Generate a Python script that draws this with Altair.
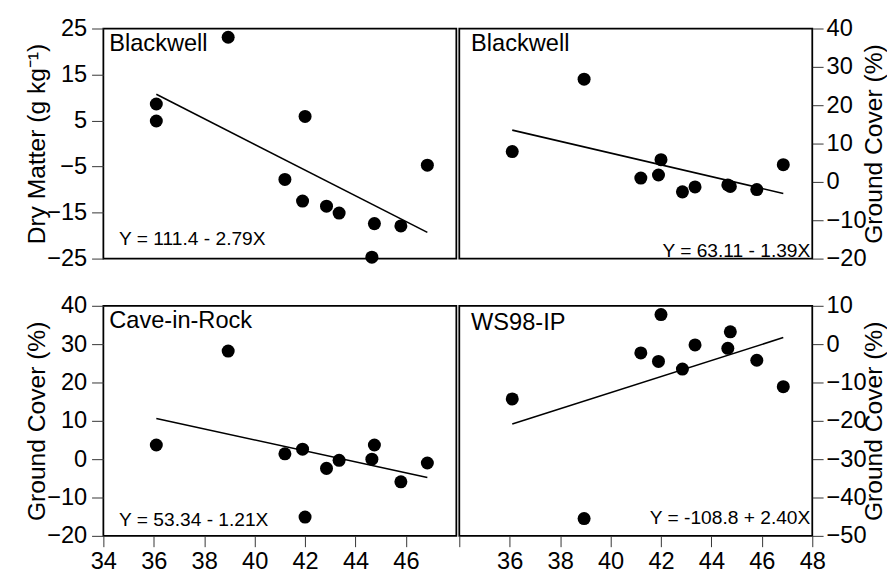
import altair as alt
import pandas as pd

# ---- data ----
x_common = [36.1, 38.95, 41.2, 41.9, 42.0, 42.85, 43.35, 44.65, 44.75, 45.8, 46.85]

tl_x = [36.1, 36.1, 38.95, 42.0, 41.2, 41.9, 42.85, 43.35, 44.75, 44.65, 45.8, 46.85]
tl_y = [8.6, 4.9, 23.1, 5.9, -7.8, -12.5, -13.6, -15.1, -17.4, -24.7, -17.9, -4.7]

tr_y = [7.9, 26.8, 1.0, 1.8, 5.8, -2.6, -1.3, -0.8, -1.2, -2.0, 4.5]
bl_y = [3.7, 28.2, 1.4, 2.6, -15.1, -2.4, -0.3, 0.0, 3.7, -5.9, -1.0]
br_y = [-14.3, -45.5, -2.3, -4.5, 7.7, -6.5, -0.2, -1.1, 3.2, -4.2, -11.1]

line_x = [36.1, 46.85]
tl_line = [10.7, -19.3]
tr_line = [13.5, -3.0]
bl_line = [10.6, -4.8]
br_line = [-20.8, 1.7]

panel_names = ["Blackwell", "Blackwell", "Cave-in-Rock", "WS98-IP"]
equations = ["Y = 111.4 - 2.79X", "Y = 63.11 - 1.39X", "Y = 53.34 - 1.21X", "Y = -108.8 + 2.40X"]

x_ticks_left = [34, 36, 38, 40, 42, 44, 46]
x_ticks_right = [34, 36, 38, 40, 42, 44, 46, 48]
tl_ticks = [-25, -15, -5, 5, 15, 25]
gc_ticks = [-20, -10, 0, 10, 20, 30, 40]
br_ticks = [-50, -40, -30, -20, -10, 0, 10]

FONT = "Liberation Sans"
W, H = 359, 234


def panel(px, py, ly, ydom, yvals, yorient, ytitle, xaxis, name, eq, eq_right, eq_y, name_x, name_y):
    pts = pd.DataFrame({"x": px, "y": py})
    ln = pd.DataFrame({"x": line_x, "y": ly})
    xscale = alt.Scale(domain=[34, 48], nice=False, zero=False)
    yscale = alt.Scale(domain=ydom, nice=False, zero=False)
    left = yorient == "left"
    yaxis = alt.Axis(
        orient=yorient, values=yvals, title=ytitle, grid=False, domain=False,
        tickSize=12 if left else 11, tickColor="#333", tickWidth=1,
        labelPadding=5 if left else 3,
        labelFontSize=24, labelFont=FONT, labelColor="black", labelOverlap=False,
        labelFlush=False, labelBound=False,
        titleFontSize=25, titleFont=FONT, titleFontWeight="normal", titleColor="black",
        titlePadding=3 if left else 2,
        minExtent=52 if left else 48, maxExtent=52 if left else 48, titleAngle=270,
        titleBaseline="bottom" if left else "top",
    )
    points = alt.Chart(pts).mark_circle(size=175, color="black", opacity=1).encode(
        x=alt.X("x:Q", scale=xscale, axis=xaxis, title=None),
        y=alt.Y("y:Q", scale=yscale, axis=yaxis),
    )
    line = alt.Chart(ln).mark_line(color="black", strokeWidth=1.6).encode(
        x=alt.X("x:Q", scale=xscale, axis=xaxis, title=None),
        y=alt.Y("y:Q", scale=yscale, axis=yaxis),
    )
    lab = alt.Chart(pd.DataFrame({"t": [name]})).mark_text(
        font=FONT, fontSize=24, align="left", baseline="alphabetic", color="black"
    ).encode(text="t:N", x=alt.value(name_x), y=alt.value(name_y))
    eqt = alt.Chart(pd.DataFrame({"t": [eq]})).mark_text(
        font=FONT, fontSize=19.5, align="right" if eq_right else "left",
        baseline="alphabetic", color="black"
    ).encode(text="t:N", x=alt.value(W - 2 if eq_right else 16), y=alt.value(eq_y))
    return alt.layer(points, line, lab, eqt).properties(width=W, height=H)


def xaxis_bottom(vals, hide34):
    return alt.Axis(
        values=vals, grid=False, domain=False, tickSize=11, tickColor="#333", tickWidth=1,
        labelPadding=3, labelFontSize=24, labelFont=FONT, labelColor="black",
        labelExpr="datum.value == 34 ? '' : datum.label" if hide34 else "datum.label",
        labelFlush=False, labelOverlap=False, labelBound=False,
    )


tl = panel(tl_x, tl_y, tl_line, [-25, 25], tl_ticks, "left", "Dry Matter (g kg⁻¹)",
           None, panel_names[0], equations[0], False, 220, 6, 23)
tr = panel(x_common, tr_y, tr_line, [-20, 40], gc_ticks, "right", "Ground Cover (%)",
           None, panel_names[1], equations[1], True, 232, 12, 23)
bl = panel(x_common, bl_y, bl_line, [-20, 40], gc_ticks, "left", "Ground Cover (%)",
           xaxis_bottom(x_ticks_left, False), panel_names[2], equations[2], False, 224, 6, 23)
br = panel(x_common, br_y, br_line, [-50, 10], br_ticks, "right", "Ground Cover (%)",
           xaxis_bottom(x_ticks_right, True), panel_names[3], equations[3], True, 222, 12, 25)

chart = alt.concat(tl, tr, bl, br, columns=2, spacing={"row": 22, "column": 0}).configure_view(
    stroke="black", strokeWidth=1.8
).configure_axis(
    labelOverlap=False
).properties(
    padding={"left": 16, "top": 3, "right": 0, "bottom": 0}, background="white"
)

chart.save("out.html", embed_options={"renderer": "svg", "actions": False})
